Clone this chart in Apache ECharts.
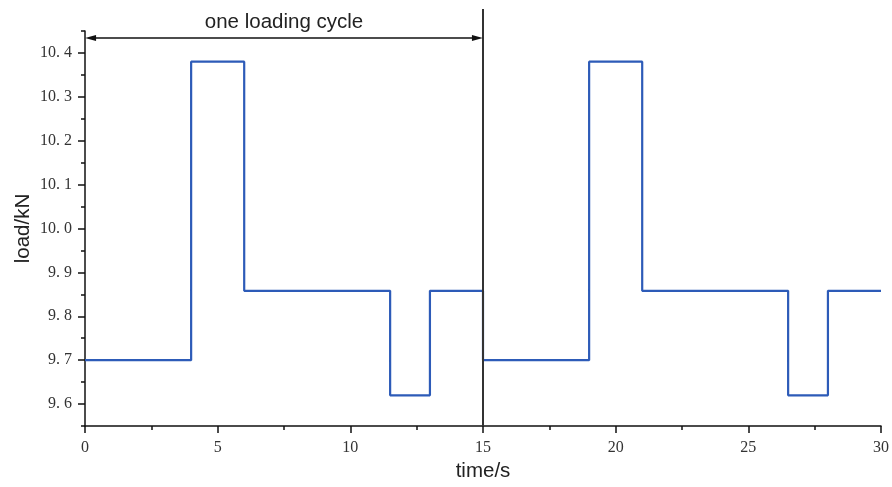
<!DOCTYPE html>
<html>
<head>
<meta charset="utf-8">
<script src="https://cdn.jsdelivr.net/npm/echarts@6/dist/echarts.min.js"></script>
<style>
  html, body { margin: 0; padding: 0; background: #fff; }
  #chart { width: 892px; height: 487px; }
</style>
</head>
<body>
<div id="chart"></div>
<script>
  // load steps: value holds from each time until the next one
  var times = [0, 4, 6, 11.5, 13, 15, 19, 21, 26.5, 28, 30];
  var loads = [9.70, 10.38, 9.858, 9.62, 9.858, 9.70, 10.38, 9.858, 9.62, 9.858, 9.858];

  // axis ticks
  var xMajor = [0, 5, 10, 15, 20, 25, 30];
  var xMinor = [2.5, 7.5, 12.5, 17.5, 22.5, 27.5];
  var yMajor = [9.6, 9.7, 9.8, 9.9, 10.0, 10.1, 10.2, 10.3, 10.4];
  var yMinor = [9.55, 9.65, 9.75, 9.85, 9.95, 10.05, 10.15, 10.25, 10.35, 10.45];

  // one loading cycle marker
  var cycleStart = 0;
  var cycleEnd = 15;
  var arrowLevel = 10.434;
  var dividerTop = 10.50;

  var yMin = 9.55, yMax = 10.45;
  var serif = '"Liberation Serif", "DejaVu Serif", serif';
  var sans = '"Liberation Sans", Arial, sans-serif';
  // arrow heads are centred on their end point, pull them in by half their length
  var arrowInset = 0.21;

  var chart = echarts.init(document.getElementById('chart'));

  function axisBase(ext) {
    return Object.assign({
      type: 'value',
      splitLine: { show: false },
      axisLine: { show: false }
    }, ext);
  }

  chart.setOption({
    animation: false,
    grid: { left: 85, right: 11, top: 31, bottom: 61, containLabel: false },
    xAxis: [
      axisBase({
        min: 0, max: 30,
        position: 'bottom',
        name: 'time/s',
        nameLocation: 'middle',
        nameGap: 35,
        nameMoveOverlap: false,
        nameTextStyle: { fontFamily: sans, fontSize: 20.5, color: '#222' },
        axisLine: { show: true, onZero: false, lineStyle: { color: '#111', width: 1.5 } },
        axisTick: { show: true, length: 7, customValues: xMajor, lineStyle: { color: '#111', width: 1.5 } },
        axisLabel: { show: true, customValues: xMajor, margin: 14, fontFamily: serif, fontSize: 16, color: '#333' }
      }),
      axisBase({
        min: 0, max: 30,
        position: 'bottom',
        axisTick: { show: true, length: 4, customValues: xMinor, lineStyle: { color: '#111', width: 1.5 } },
        axisLabel: { show: false }
      })
    ],
    yAxis: [
      axisBase({
        min: yMin, max: yMax,
        position: 'left',
        name: 'load/kN',
        nameLocation: 'middle',
        nameGap: 51,
        nameMoveOverlap: false,
        nameTextStyle: { fontFamily: sans, fontSize: 20.5, color: '#222' },
        axisLine: { show: true, onZero: false, lineStyle: { color: '#111', width: 1.5 } },
        axisTick: { show: true, length: 7, customValues: yMajor, lineStyle: { color: '#111', width: 1.5 } },
        axisLabel: {
          show: true, customValues: yMajor, margin: 13,
          fontFamily: serif, fontSize: 16, color: '#333',
          formatter: function (v) { return v.toFixed(1).replace('.', '. '); }
        }
      }),
      axisBase({
        min: yMin, max: yMax,
        position: 'left',
        axisTick: { show: true, length: 4, customValues: yMinor, lineStyle: { color: '#111', width: 1.5 } },
        axisLabel: { show: false }
      })
    ],
    series: [
      {
        name: 'load',
        type: 'line',
        step: 'end',
        symbol: 'none',
        data: times.map(function (t, i) { return [t, loads[i]]; }),
        lineStyle: { color: '#2d5bb8', width: 2.2 },
        z: 3
      },
      {
        name: 'cycle',
        type: 'line',
        symbol: 'none',
        clip: false,
        data: [[cycleEnd, yMin], [cycleEnd, dividerTop]],
        lineStyle: { color: '#333', width: 2 },
        z: 4,
        markLine: {
          silent: true,
          symbol: ['triangle', 'triangle'],
          symbolSize: [6, 11],
          lineStyle: { color: '#111', width: 1.5, type: 'solid' },
          label: {
            show: true,
            position: 'insideMiddleTop',
            distance: 5,
            formatter: 'one loading cycle',
            fontFamily: sans,
            fontSize: 20.5,
            color: '#222'
          },
          data: [[
            { coord: [cycleStart + arrowInset, arrowLevel] },
            { coord: [cycleEnd - arrowInset, arrowLevel] }
          ]]
        }
      }
    ]
  });
</script>
</body>
</html>
